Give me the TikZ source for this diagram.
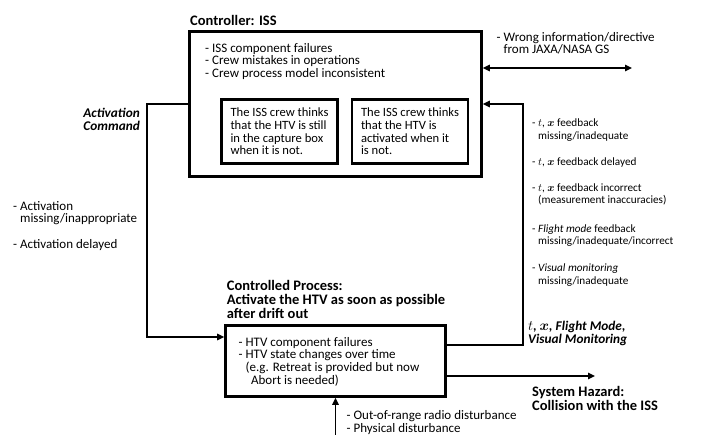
\documentclass[tikz,border=0pt]{standalone}
\usepackage{amsmath,amssymb}
\usepackage{fontspec}
\setmainfont{Carlito}
\usepackage{tikz}
\usetikzlibrary{calc,arrows.meta}
\newcommand{\ind}{\hphantom{- }}
\tikzset{
  box/.style={draw=black, line width=2.6pt, inner sep=0pt},
  conn/.style={draw=black, line width=1.5pt, line join=miter, >={Triangle[length=7pt,width=6.5pt]}},
  lab/.style={font=\fontsize{13}{12.7}\selectfont, align=left, anchor=north west, inner sep=0pt},
  labs/.style={lab, font=\fontsize{12.6}{12.7}\selectfont},
  labf/.style={lab, font=\fontsize{11.2}{12.7}\selectfont},
  labb/.style={lab, font=\fontsize{14.5}{14}\selectfont\bfseries},
  labbi/.style={lab, font=\fontsize{13.3}{13.5}\selectfont\bfseries\itshape},
}

\begin{document}
\begin{tikzpicture}[x=1pt,y=-1pt]
  \useasboundingbox (0,0) rectangle (713,435);

  % controller
  \node[box, minimum width=292pt, minimum height=145pt] (ctrl) at (335.5,104) {};
  \node[labb] (ctrlttl) at (190,14.7) {Controller: ISS};
  \node[lab] (ctrlfail) at (205,43) {- ISS component failures\\- Crew mistakes in operations\\- Crew process model inconsistent};
  \node[box, labs, anchor=center, minimum width=116pt, minimum height=64pt] (pm1) at (279.5,131.5)
    {The ISS crew thinks\\that the HTV is still\\in the capture box\\when it is not.};
  \node[box, labs, anchor=center, minimum width=116pt, minimum height=64pt] (pm2) at (410,131.5)
    {The ISS crew thinks\\that the HTV is\\activated when it\\is not.};

  % controlled process
  \node[box, minimum width=220pt, minimum height=71pt] (proc) at (335.5,361) {};
  \node[labb] (procttl) at (226.7,280.2) {Controlled Process:\\Activate the HTV as soon as possible\\after drift out};
  \node[lab] (procfail) at (238.5,336.8) {- HTV component failures\\- HTV state changes over time\\\ind(e.g. Retreat is provided but now\\\ind\hphantom{(}\hspace{1.5pt}Abort is needed)};

  % connectors
  \coordinate (cmdbend) at (147,104);
  \draw[conn,->] (ctrl.west) -- (cmdbend) |- ($(proc.west)+(0,-24)$);
  \coordinate (fbbend) at (523,345);
  \draw[conn,->] ($(proc.east)+(0,-16)$) -- (fbbend) |- (ctrl.east);
  \coordinate (gs) at (632,68);
  \draw[conn,<->] ($(ctrl.east)+(0,-36)$) -- (gs);
  \coordinate (hazend) at (595,376);
  \draw[conn,->] ($(proc.east)+(0,15)$) -- (hazend);
  \coordinate (dist) at (335.5,436);
  \draw[conn,->] (dist) -- (proc.south);

  % labels
  \node[lab] (gslab) at (496.5,32) {- Wrong information/directive\\\ind from JAXA/NASA GS};
  \node[labbi, align=right, anchor=north east] (cmdlab) at (140,107.8) {Activation\\Command};
  \node[lab] (cmdfail) at (13,201) {- Activation\\\ind missing/inappropriate\\[13pt]- Activation delayed};
  \node[labf] (fblab) at (532,118.7) {- $t$, $\boldsymbol{x}$ feedback\\\ind missing/inadequate\\[13.5pt]%
    - $t$, $\boldsymbol{x}$ feedback delayed\\[13pt]%
    - $t$, $\boldsymbol{x}$ feedback incorrect\\\ind(measurement inaccuracies)\\[15.5pt]%
    - \textit{Flight mode} feedback\\\ind missing/inadequate/incorrect\\[14pt]%
    - \textit{Visual monitoring}\\\ind missing/inadequate};
  \node[labbi] (fbsig) at (528,320.5) {$t$, $\boldsymbol{x}$, Flight Mode,\\Visual Monitoring};
  \node[labb] (hazard) at (532,386.4) {System Hazard:\\Collision with the ISS};
  \node[lab] (distlab) at (346.5,410.5) {- Out-of-range radio disturbance\\- Physical disturbance};
\end{tikzpicture}
\end{document}
